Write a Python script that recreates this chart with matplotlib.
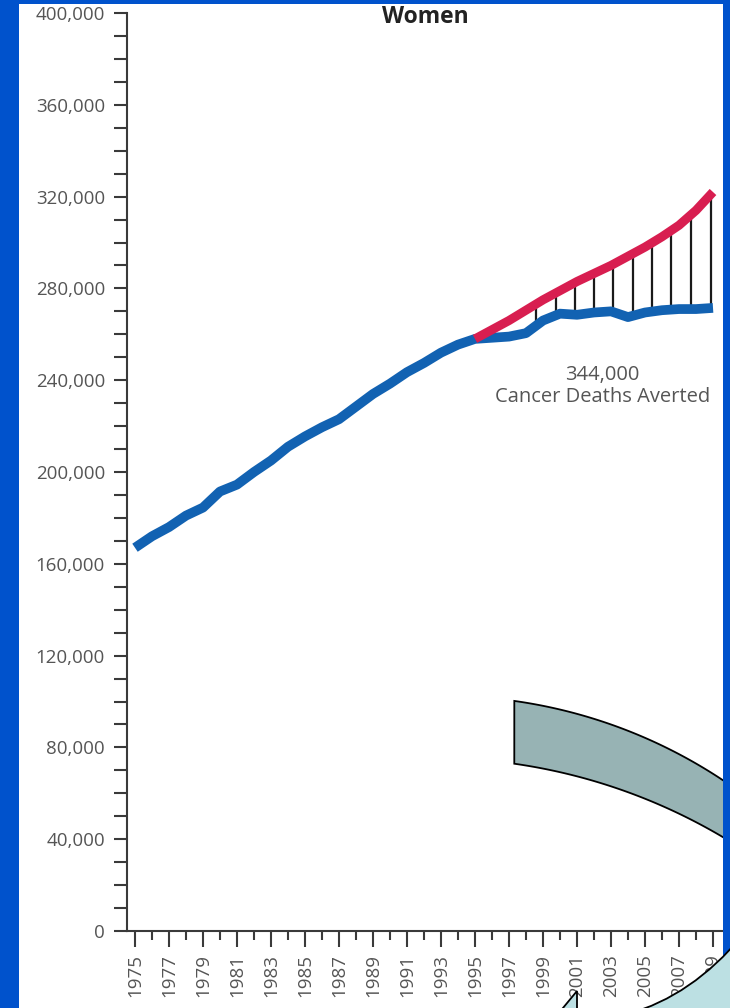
import numpy as np
import matplotlib
matplotlib.use('Agg')
import matplotlib.pyplot as plt
from matplotlib.patches import Rectangle, Polygon, PathPatch
from matplotlib.path import Path
from matplotlib.ticker import MultipleLocator, FixedLocator, FuncFormatter

# observed female cancer deaths, 1975-2009 (thousands)
years = np.arange(1975, 2010)
observed = [167, 172, 176, 181, 184.5, 191.5, 194.5, 200, 205, 211,
            215.5, 219.5, 223, 228.5, 234, 238.5, 243.5, 247.5, 252, 255.5,
            258, 258.5, 259, 260.5, 266, 269, 268.5, 269.5, 270, 267.5,
            269.5, 270.5, 271, 271, 271.5]
# expected deaths had rates stayed at early-1990s level (thousands)
exp_years = np.arange(1995, 2010)
expected = [258, 262, 266, 270.5, 275, 279, 283, 286.5, 290, 294,
            298, 302.5, 307.5, 314, 322]
# positions of the hatch lines between the two curves
hatch_years = [1998.6, 1999.75, 2000.9, 2002.0, 2003.1, 2004.3, 2005.4,
               2006.5, 2007.7, 2008.9]
yticks = np.arange(0, 400001, 40000)
xtick_years = np.arange(1975, 2010, 2)
title = 'Women'
note = '344,000\nCancer Deaths Averted'

plt.rcParams['font.family'] = ['Open Sans', 'DejaVu Sans']

W, H = 730, 1008
fig = plt.figure(figsize=(W / 100, H / 100), dpi=100, facecolor='#0052CC')

def fr(pts):
    # image pixel coords (y down) -> figure fraction
    pts = np.asarray(pts, dtype=float)
    return np.column_stack([pts[:, 0] / W, 1 - pts[:, 1] / H])

panel = Rectangle((19 / W, 0), (723 - 19) / W, (H - 4) / H, transform=fig.transFigure,
                  facecolor='white', edgecolor='none', zorder=-5)
fig.patches.append(panel)

ax = fig.add_axes([126.5 / W, 1 - 931 / H, 595 / W, 918 / H])
ax.set_facecolor('none')
ax.set_zorder(1)

obs = np.array(observed) * 1000
exp = np.array(expected) * 1000
lo = np.interp(hatch_years, years, obs)
hi = np.interp(hatch_years, exp_years, exp)
ax.vlines(hatch_years, lo, hi, color='#1a1a1a', lw=1.6, zorder=2)
ax.plot(years, obs, color='#1262B2', lw=7, solid_capstyle='butt', zorder=3)
ax.plot(exp_years, exp, color='#D81E50', lw=6.5, solid_capstyle='butt', zorder=4)

ax.text(2002.5, 237500, note, ha='center', va='center', fontsize=14.5,
        color='#555555', linespacing=1.15)

ax.set_xlim(1974.5, 2009.5)
ax.set_ylim(0, 400000)
ax.spines['top'].set_visible(False)
ax.spines['right'].set_visible(False)
for s in ['left', 'bottom']:
    ax.spines[s].set_color('#3a3a3a')
    ax.spines[s].set_linewidth(1.5)

ax.yaxis.set_major_locator(FixedLocator(yticks))
ax.yaxis.set_minor_locator(MultipleLocator(10000))
ax.yaxis.set_major_formatter(FuncFormatter(lambda v, p: f'{v:,.0f}'))
ax.xaxis.set_major_locator(FixedLocator(xtick_years))
ax.xaxis.set_minor_locator(MultipleLocator(1))
ax.tick_params(axis='y', which='both', length=9.5, width=1.5, color='#3a3a3a',
               labelsize=13.5, labelcolor='#555555', pad=6)
ax.tick_params(axis='x', which='major', length=11.5, width=1.5, color='#3a3a3a',
               labelsize=13.5, labelcolor='#555555', pad=5, labelrotation=90)
ax.tick_params(axis='x', which='minor', length=6.5, width=1.5, color='#3a3a3a')

fig.text(425 / W, 1 - 17 / H, title, ha='center', va='center', fontsize=16.5,
         fontweight='bold', color='#222222')

# curved arrow shape drawn over the chart
t_out = np.radians(np.linspace(8.02, 45, 80))
outer = np.column_stack([444 + 504 * np.sin(t_out), 1200 - 504 * np.cos(t_out)])
t_in = np.radians(np.linspace(40, 8.14, 80))
inner = np.column_stack([434 + 567 * np.sin(t_in), 1325 - 567 * np.cos(t_in)])
band = Polygon(fr(np.vstack([outer, inner])), closed=True, transform=fig.transFigure,
               facecolor='#97B3B4', edgecolor='black', lw=1.3, zorder=5)
fig.patches.append(band)
band.set_clip_path(panel)

verts = fr([(628, 1014), (692, 996), (742, 936), (742, 1014), (628, 1014)])
codes = [Path.MOVETO, Path.CURVE3, Path.CURVE3, Path.LINETO, Path.CLOSEPOLY]
light = PathPatch(Path(verts, codes), transform=fig.transFigure,
                  facecolor='#BCE0E3', edgecolor='black', lw=1.3, zorder=6)
fig.patches.append(light)
tip = Polygon(fr([(558, 1014), (577, 991), (577, 1014)]), closed=True,
              transform=fig.transFigure, facecolor='#BCE0E3', edgecolor='black',
              lw=1.3, zorder=6)
fig.patches.append(tip)

fig.savefig('out.png', dpi=100, facecolor=fig.get_facecolor())
